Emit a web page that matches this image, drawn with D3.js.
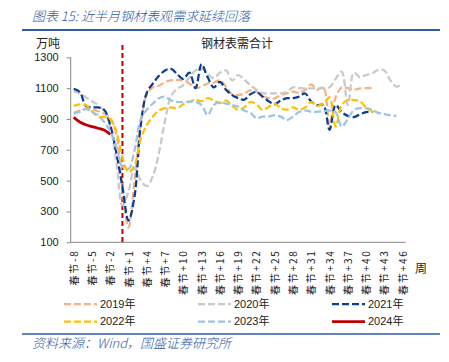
<!DOCTYPE html>
<html>
    <head>
        <meta charset="utf-8">
        <script type="text/javascript" src="https://cdn.jsdelivr.net/npm/d3@7"></script>
        <style>
            body { margin: 0; background: #fff; }
            text { font-family: "Liberation Sans", Arial, "Noto Sans CJK SC", sans-serif; }
            .cn { font-family: "Noto Sans CJK SC", sans-serif; }
        </style>
    </head>
    <body>
        <svg></svg>

        <script>
            var w = 449, h = 362;

            // week offsets around Spring Festival (0 = 春节 itself)
            var offsets = d3.range(-8, 47);
            var weeks = offsets.map(function(d) { return d === 0 ? "春节" : "春节" + (d > 0 ? "+" + d : d); });
            var yTicks = [100, 300, 500, 700, 900, 1100, 1300];

            var s2019 = [940, 955, 965, 960, 950, 935, 905, 800, 440, 195, 500, 860, 1060, 1105, 1115, 1140, 1150, 1153, 1150, 1130,
                         1100, 1110, 1130, 1135, 1150, 1110, 1060, 1055, 1065, 1085, 1077, 1050, 1035, 1034, 1055, 1066, 1077, 1070, 1088, 1125,
                         1090, 1105, 860, 1040, 1105, 1100, 1090, 1098, 1100, 1100];
            var s2020 = [1080, 1065, 1040, 1015, 990, 950, 850, 620, 340, 430, 580, 500, 465, 530, 680, 890, 1050, 1095, 1120, 1170,
                         1215, 1225, 1190, 1165, 1200, 1215, 1150, 1185, 1155, 1120, 1090, 1068, 1066, 1066, 1066, 1075, 1105, 1100, 1099, 1099,
                         1099, 1099, 1105, 1160, 1207, 990, 1200, 1170, 1185, 1196, 1218, 1215, 1150, 1110, 1130];
            var s2021 = [1095, 1075, 985, 975, 975, 960, 860, 680, 460, 240, 400, 860, 1070, 1130, 1180, 1215, 1225, 1190, 1160, 1200,
                         1100, 1255, 1170, 1105, 1140, 1090, 1055, 1035, 1025, 1060, 1075, 1045, 1015, 995, 1020, 1035, 1035, 1045, 1065, 1012,
                         990, 990, 830, 990, 945, 920, 912, 930, 945, 945];
            var s2022 = [985, 995, 990, 950, 915, 912, 900, 820, 650, 555, 600, 770, 860, 915, 955, 970, 975, 970, 995, 1010,
                         1025, 1015, 1035, 1020, 1003, 1020, 985, 958, 975, 1010, 995, 958, 978, 1000, 970, 960, 975, 960, 975, 1010,
                         985, 1000, 1040, 850, 990, 1023, 1023, 1015, 975, 950, 936];
            var s2023 = [935, 945, 965, 945, 925, 880, 820, 720, 590, 575, 700, 900, 960, 1000, 1035, 1044, 1020, 1010, 1010, 1012,
                         1012, 990, 925, 990, 1010, 1000, 990, 980, 955, 940, 905, 915, 915, 925, 915, 893, 915, 945, 955, 947,
                         947, 950, 955, 945, 850, 900, 958, 970, 969, 960, 940, 932, 925, 920];
            var s2024 = [910, 880, 862, 850, 840, 828, 800];

            var series = [
                { name: "2019年", values: s2019, color: "#F4B183", dash: "7,3" },
                { name: "2020年", values: s2020, color: "#C9C9C9", dash: "7,3" },
                { name: "2021年", values: s2021, color: "#0B3D91", dash: "7,3" },
                { name: "2022年", values: s2022, color: "#FFC000", dash: "7,3" },
                { name: "2023年", values: s2023, color: "#9DC3E6", dash: "7,3" },
                { name: "2024年", values: s2024, color: "#C00000", dash: null }
            ];

            var svg = d3.select("svg")
                    .attr("width", w)
                    .attr("height", h);

            var blue = "#2E5AA8";

            // header
            svg.append("text")
                    .attr("class", "cn")
                    .attr("x", 32).attr("y", 21)
                    .attr("fill", blue)
                    .attr("font-size", 13)
                    .attr("font-style", "italic")
                    .attr("font-weight", 300)
                    .text("图表 15:  近半月钢材表观需求延续回落");
            svg.append("line")
                    .attr("x1", 22).attr("x2", 440)
                    .attr("y1", 30).attr("y2", 30)
                    .attr("stroke", blue).attr("stroke-width", 2);

            var x = d3.scalePoint().domain(weeks).range([73.7, 402.6]);
            var y = d3.scaleLinear().domain([100, 1300]).range([242.3, 57.3]);

            svg.append("text").attr("class", "cn")
                    .attr("x", 36).attr("y", 48)
                    .attr("font-size", 12).attr("fill", "#222")
                    .text("万吨");
            svg.append("text").attr("class", "cn")
                    .attr("x", 237).attr("y", 48)
                    .attr("text-anchor", "middle")
                    .attr("font-size", 12).attr("fill", "#222")
                    .text("钢材表需合计");

            // y axis
            var yAxis = svg.append("g")
                    .attr("transform", "translate(70.7,0)")
                    .call(d3.axisLeft(y).tickValues(yTicks).tickFormat(d3.format("d")).tickSize(4).tickPadding(8));
            yAxis.select(".domain").attr("d", "M0," + y(1300) + "V" + y(100)).attr("stroke", "#888");
            yAxis.selectAll(".tick line").attr("stroke", "#888");
            yAxis.selectAll(".tick text")
                    .attr("font-size", 11)
                    .attr("fill", "#222")
                    .attr("font-family", "Liberation Sans, Arial, sans-serif");

            // x axis
            var xAxis = svg.append("g")
                    .attr("transform", "translate(0," + y(100) + ")")
                    .call(d3.axisBottom(x)
                            .tickValues(weeks.filter(function(d, i) { return i % 3 === 0; }))
                            .tickSize(0));
            xAxis.select(".domain").attr("d", "M70.7,0H405.7").attr("stroke", "#888");
            xAxis.selectAll(".tick text")
                    .attr("class", "cn")
                    .attr("font-size", 10)
                    .attr("fill", "#222")
                    .attr("letter-spacing", 1.8)
                    .attr("text-anchor", "end")
                    .attr("transform", "rotate(-90)")
                    .attr("x", -7)
                    .attr("y", 0)
                    .attr("dy", "0.35em");

            svg.append("text").attr("class", "cn")
                    .attr("x", 415).attr("y", 273)
                    .attr("font-size", 12).attr("fill", "#222")
                    .text("周");

            // spring festival marker
            svg.append("line")
                    .attr("x1", x("春节")).attr("x2", x("春节"))
                    .attr("y1", 45).attr("y2", y(100))
                    .attr("stroke", "#C00000")
                    .attr("stroke-width", 2)
                    .attr("stroke-dasharray", "5,3");

            var line = d3.line()
                    .x(function(d, i) { return x(weeks[i]); })
                    .y(function(d) { return y(d); })
                    .curve(d3.curveCatmullRom.alpha(0.5));

            svg.append("g")
                    .selectAll("path")
                    .data(series)
                    .enter().append("path")
                    .attr("d", function(d) { return line(d.values); })
                    .attr("fill", "none")
                    .attr("stroke", function(d) { return d.color; })
                    .attr("stroke-width", function(d) { return d.dash ? 2.25 : 2.75; })
                    .attr("stroke-dasharray", function(d) { return d.dash; });

            // legend
            var legCols = [64, 198, 332], legRows = [304, 321.5];
            var leg = svg.append("g")
                    .selectAll("g")
                    .data(series)
                    .enter().append("g")
                    .attr("transform", function(d, i) {
                        return "translate(" + legCols[i % 3] + "," + legRows[Math.floor(i / 3)] + ")";
                    });
            leg.append("line")
                    .attr("x1", 0).attr("x2", 33)
                    .attr("stroke", function(d) { return d.color; })
                    .attr("stroke-width", function(d) { return d.dash ? 2.25 : 2.75; })
                    .attr("stroke-dasharray", function(d) { return d.dash; });
            leg.append("text")
                    .attr("x", 36).attr("dy", "0.35em")
                    .attr("font-size", 11).attr("fill", "#222")
                    .text(function(d) { return d.name; });

            // footer
            svg.append("line")
                    .attr("x1", 22).attr("x2", 440)
                    .attr("y1", 334).attr("y2", 334)
                    .attr("stroke", blue).attr("stroke-width", 1.5);
            svg.append("text")
                    .attr("class", "cn")
                    .attr("x", 32).attr("y", 348)
                    .attr("fill", blue)
                    .attr("font-size", 13)
                    .attr("font-style", "italic")
                    .attr("font-weight", 300)
                    .text("资料来源：Wind，国盛证券研究所");
        </script>
    </body>
</html>
